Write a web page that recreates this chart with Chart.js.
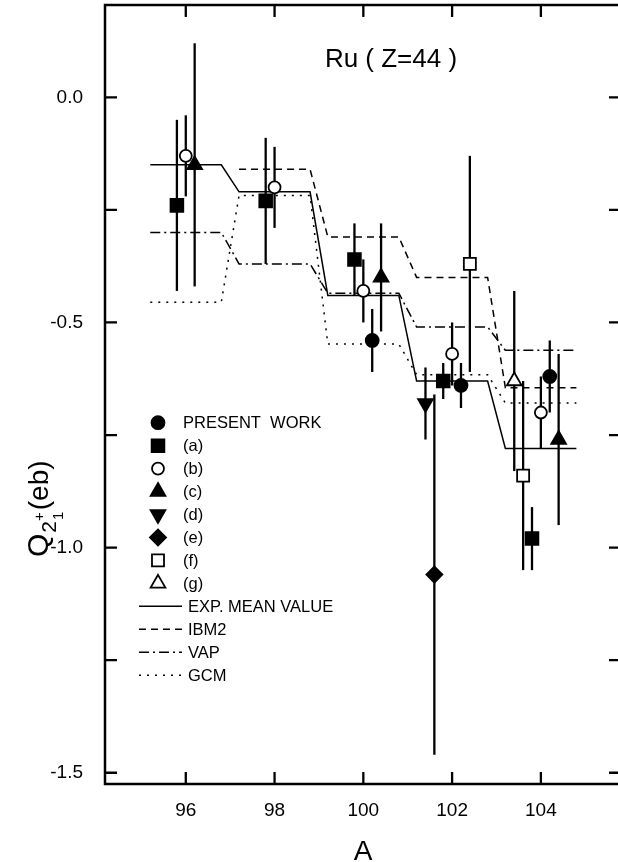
<!DOCTYPE html>
<html>
<head>
<meta charset="utf-8">
<script src="https://cdn.jsdelivr.net/npm/chart.js@4/dist/chart.umd.min.js"></script>
<style>
  html, body { margin: 0; padding: 0; background: #fff; overflow: hidden; }
  #wrap { width: 624px; height: 862px; }
</style>
</head>
<body>
<div id="wrap"><canvas id="chart" width="624" height="862"></canvas></div>
<script>
// ─── Data ─────────────────────────────────────
const masses  = [96, 98, 100, 102, 104];

// model / mean curves, one value per isotope (null = no value)
const expMean = [-0.15, -0.21, -0.44, -0.63, -0.78];
const ibm2    = [null, -0.16, -0.31, -0.40, -0.645];
const vap     = [-0.30, -0.37, -0.435, -0.51, -0.562];
const gcm     = [-0.455, -0.218, -0.548, -0.616, -0.679];

// experimental points: A, Q, upper and lower end of error bar
const presentA  = [100.2, 102.2, 104.2];
const presentQ  = [-0.54, -0.64, -0.62];
const presentHi = [-0.47, -0.59, -0.54];
const presentLo = [-0.61, -0.69, -0.70];

const aA  = [95.8, 97.8, 99.8, 101.8, 103.8];
const aQ  = [-0.24, -0.23, -0.36, -0.63, -0.98];
const aHi = [-0.05, -0.09, -0.28, -0.59, -0.91];
const aLo = [-0.43, -0.37, -0.44, -0.67, -1.05];

const bA  = [96, 98, 100, 102, 104];
const bQ  = [-0.13, -0.20, -0.43, -0.57, -0.70];
const bHi = [-0.04, -0.11, -0.36, -0.50, -0.62];
const bLo = [-0.22, -0.29, -0.50, -0.64, -0.78];

const cA  = [96.2, 100.4, 104.4];
const cQ  = [-0.15, -0.40, -0.76];
const cHi = [0.12, -0.28, -0.57];
const cLo = [-0.42, -0.52, -0.95];

const dA = [101.4], dQ = [-0.68], dHi = [-0.60], dLo = [-0.76];
const eA = [101.6], eQ = [-1.06], eHi = [-0.66], eLo = [-1.46];

const fA  = [102.4, 103.6];
const fQ  = [-0.37, -0.84];
const fHi = [-0.13, -0.63];
const fLo = [-0.61, -1.05];

const gA = [103.4], gQ = [-0.63], gHi = [-0.43], gLo = [-0.83];

const xTicks     = [96, 98, 100, 102, 104];
const yTicks     = [0, -0.5, -1.0, -1.5];
const yTickMarks = [0, -0.25, -0.5, -0.75, -1.0, -1.25, -1.5];

// ─── Helpers ──────────────────────────────────
const FONT = '"Liberation Sans", Arial, Helvetica, sans-serif';
const plateau = 0.8;   // half width of each flat step

function steps(vals) {
  const pts = [];
  vals.forEach((v, i) => {
    if (v == null) return;
    pts.push({ x: masses[i] - plateau, y: v }, { x: masses[i] + plateau, y: v });
  });
  return pts;
}

function pts(A, Q, hi, lo) {
  return A.map((a, i) => ({ x: a, y: Q[i], hi: hi[i], lo: lo[i] }));
}

function expSet(label, data, style, filled, radius, rotation) {
  return {
    type: 'scatter', label, data, isExp: true, order: 1,
    pointStyle: style, pointRadius: radius, pointRotation: rotation || 0,
    pointBackgroundColor: filled ? '#000' : '#fff',
    pointBorderColor: '#000', pointBorderWidth: 1.8,
    pointHoverRadius: radius,
  };
}

function curveSet(label, vals, dash) {
  return {
    type: 'line', label, data: steps(vals), isCurve: true, order: 2,
    borderColor: '#000', borderWidth: 1.5, borderDash: dash,
    pointRadius: 0, fill: false, tension: 0,
  };
}

function noPad(s) {
  s.paddingTop = 0; s.paddingBottom = 0; s.paddingLeft = 0; s.paddingRight = 0;
}

// ─── Plugins ──────────────────────────────────
const errorBars = {
  id: 'errorBars',
  beforeDatasetsDraw(chart) {
    const { ctx, scales: { x, y } } = chart;
    ctx.save();
    ctx.strokeStyle = '#000';
    ctx.lineWidth = 2.3;
    chart.data.datasets.forEach(ds => {
      if (!ds.isExp) return;
      ds.data.forEach(p => {
        const px = x.getPixelForValue(p.x);
        ctx.beginPath();
        ctx.moveTo(px, y.getPixelForValue(p.hi));
        ctx.lineTo(px, y.getPixelForValue(p.lo));
        ctx.stroke();
      });
    });
    ctx.restore();
  }
};

const frame = {
  id: 'frame',
  afterDraw(chart) {
    const { ctx, chartArea: a, scales: { x, y } } = chart;
    ctx.save();
    ctx.strokeStyle = '#000';
    ctx.lineWidth = 2.5;
    ctx.beginPath();
    ctx.moveTo(a.right, a.top); ctx.lineTo(a.left, a.top);
    ctx.lineTo(a.left, a.bottom); ctx.lineTo(a.right, a.bottom);
    ctx.stroke();
    // inward ticks on all sides
    ctx.lineWidth = 2.3;
    ctx.beginPath();
    xTicks.forEach(v => {
      const px = x.getPixelForValue(v);
      ctx.moveTo(px, a.bottom); ctx.lineTo(px, a.bottom - 12);
      ctx.moveTo(px, a.top); ctx.lineTo(px, a.top + 12);
    });
    yTickMarks.forEach(v => {
      const py = y.getPixelForValue(v);
      ctx.moveTo(a.left, py); ctx.lineTo(a.left + 12, py);
      ctx.moveTo(a.right, py); ctx.lineTo(a.right - 10, py);
    });
    ctx.stroke();
    ctx.restore();
  }
};

const texts = {
  id: 'texts',
  afterDraw(chart) {
    const { ctx } = chart;
    ctx.save();
    ctx.fillStyle = '#000';
    ctx.strokeStyle = '#000';

    // title
    ctx.font = '26px ' + FONT;
    ctx.textAlign = 'center';
    ctx.textBaseline = 'alphabetic';
    ctx.fillText('Ru ( Z=44 )', 391, 66.5);

    // x label
    ctx.font = '28px ' + FONT;
    ctx.fillText('A', 363, 860);

    // y label  Q_{2_1^+}(eb), rotated
    ctx.save();
    ctx.translate(48, 557);
    ctx.rotate(-Math.PI / 2);
    ctx.textAlign = 'left';
    ctx.font = '30px ' + FONT;
    ctx.fillText('Q', 0, 0);
    let cx = ctx.measureText('Q').width + 1;
    ctx.font = '21px ' + FONT;
    ctx.fillText('2', cx, 8);
    cx += ctx.measureText('2').width;
    ctx.font = '15px ' + FONT;
    ctx.fillText('+', cx, -4);
    ctx.fillText('1', cx + 1, 15);
    cx += ctx.measureText('+').width + 2;
    ctx.font = '28px ' + FONT;
    ctx.fillText('(eb)', cx, 0);
    ctx.restore();

    // legend
    const lx = 158, tx = 183, y0 = 422.7, dy = 22.95;
    ctx.textAlign = 'left';
    ctx.textBaseline = 'middle';
    ctx.font = '16.5px ' + FONT;
    let row = 0;
    chart.data.datasets.filter(d => d.isExp).forEach(ds => {
      const yy = y0 + dy * row++;
      ctx.fillStyle = ds.pointBackgroundColor;
      ctx.lineWidth = ds.pointBorderWidth;
      Chart.helpers.drawPoint(ctx, {
        pointStyle: ds.pointStyle, radius: ds.pointRadius,
        rotation: ds.pointRotation, borderWidth: ds.pointBorderWidth
      }, lx, yy);
      ctx.fillStyle = '#000';
      ctx.fillText(ds.label, tx, yy + 1);
    });
    chart.data.datasets.filter(d => d.isCurve).forEach(ds => {
      const yy = y0 + dy * row++;
      ctx.lineWidth = ds.borderWidth;
      ctx.setLineDash(ds.borderDash);
      ctx.beginPath();
      ctx.moveTo(139, yy); ctx.lineTo(182, yy);
      ctx.stroke();
      ctx.setLineDash([]);
      ctx.fillText(ds.label, 188, yy + 1);
    });
    ctx.restore();
  }
};

// ─── Chart ────────────────────────────────────
new Chart(document.getElementById('chart'), {
  data: {
    datasets: [
      expSet('PRESENT  WORK', pts(presentA, presentQ, presentHi, presentLo), 'circle', true, 6.5),
      expSet('(a)', pts(aA, aQ, aHi, aLo), 'rect', true, 9),
      expSet('(b)', pts(bA, bQ, bHi, bLo), 'circle', false, 6),
      expSet('(c)', pts(cA, cQ, cHi, cLo), 'triangle', true, 8.5),
      expSet('(d)', pts(dA, dQ, dHi, dLo), 'triangle', true, 8.5, 180),
      expSet('(e)', pts(eA, eQ, eHi, eLo), 'rectRot', true, 8),
      expSet('(f)', pts(fA, fQ, fHi, fLo), 'rect', false, 8.5),
      expSet('(g)', pts(gA, gQ, gHi, gLo), 'triangle', false, 8.5),
      curveSet('EXP. MEAN VALUE', expMean, []),
      curveSet('IBM2', ibm2, [7, 5]),
      curveSet('VAP', vap, [10, 4, 2, 4]),
      curveSet('GCM', gcm, [2, 6]),
    ]
  },
  options: {
    responsive: false,
    animation: false,
    layout: { autoPadding: false, padding: { top: 5, right: 5, left: 0, bottom: 0 } },
    plugins: { legend: { display: false }, tooltip: { enabled: false } },
    scales: {
      x: {
        type: 'linear', min: 94.18, max: 105.76,
        afterBuildTicks: s => { s.ticks = xTicks.map(v => ({ value: v })); },
        afterFit: s => { s.height = 78; noPad(s); },
        grid: { display: false, drawTicks: false },
        border: { display: false },
        ticks: { color: '#000', padding: 15, maxRotation: 0,
                 font: { family: FONT, size: 19 }, callback: v => String(v) },
      },
      y: {
        type: 'linear', min: -1.525, max: 0.205,
        afterBuildTicks: s => { s.ticks = yTicks.map(v => ({ value: v })); },
        afterFit: s => { s.width = 105; noPad(s); },
        grid: { display: false, drawTicks: false },
        border: { display: false },
        ticks: { color: '#000', padding: 22,
                 font: { family: FONT, size: 19 }, callback: v => v.toFixed(1) },
      },
    },
  },
  plugins: [errorBars, frame, texts],
});
</script>
</body>
</html>
